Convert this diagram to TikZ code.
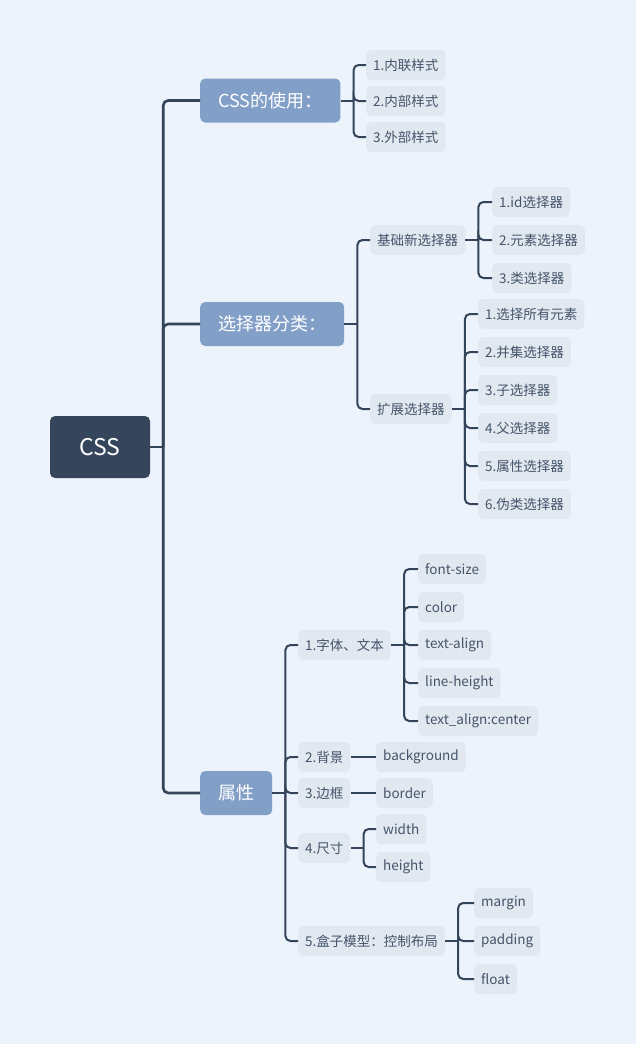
\documentclass[tikz,border=0pt]{standalone}
\usepackage{fontspec}
\setmainfont{Noto Sans CJK SC}
\definecolor{pagebg}{HTML}{EDF3FA}
\definecolor{rootblue}{HTML}{35465C}
\definecolor{topicblue}{HTML}{829FC8}
\definecolor{leafgray}{HTML}{E1E8F0}
\definecolor{leaftext}{HTML}{45546A}
\definecolor{linkblue}{HTML}{34455B}
\tikzset{
  rootbox/.style={fill=rootblue, rounded corners=5pt, text=white, minimum width=100pt, minimum height=62pt, font=\fontsize{23}{26}\selectfont},
  topic/.style={fill=topicblue, rounded corners=5pt, text=white, anchor=west, minimum height=44pt, inner xsep=18pt, font=\fontsize{18}{20}\selectfont},
  leaf/.style={fill=leafgray, rounded corners=5pt, text=leaftext, anchor=west, minimum height=30pt, inner xsep=7pt, font=\fontsize{13.5}{15}\selectfont},
  link/.style={draw=linkblue, line width=2pt, rounded corners=5pt},
}

\begin{document}
\begin{tikzpicture}[x=1pt, y=-1pt]
\fill[pagebg] (0,0) rectangle (636,1044);
\useasboundingbox (0,0) rectangle (636,1044);
% root and main topics
\node[rootbox] (root) at (100,447) {CSS};
\node[topic] (use) at (200,100.5) {CSS的使用：};
\node[topic] (sel) at (200,324) {选择器分类：};
\node[topic] (attr) at (200,793) {属性};
% CSS usage
\node[leaf] (u1) at (366,65) {1.内联样式};
\node[leaf] (u2) at (366,101) {2.内部样式};
\node[leaf] (u3) at (366,137) {3.外部样式};
% selectors
\node[leaf] (base) at (370,240) {基础新选择器};
\node[leaf] (ext) at (370,409) {扩展选择器};
\node[leaf] (b1) at (492,202) {1.id选择器};
\node[leaf] (b2) at (492,240) {2.元素选择器};
\node[leaf] (b3) at (492,278) {3.类选择器};
\node[leaf] (e1) at (478,314) {1.选择所有元素};
\node[leaf] (e2) at (478,352) {2.并集选择器};
\node[leaf] (e3) at (478,390) {3.子选择器};
\node[leaf] (e4) at (478,428) {4.父选择器};
\node[leaf] (e5) at (478,466) {5.属性选择器};
\node[leaf] (e6) at (478,504) {6.伪类选择器};
% properties
\node[leaf] (a1) at (298,645) {1.字体、文本};
\node[leaf] (a2) at (298,757) {2.背景};
\node[leaf] (a3) at (298,793) {3.边框};
\node[leaf] (a4) at (298,848) {4.尺寸};
\node[leaf] (a5) at (298,941) {5.盒子模型：控制布局};
\node[leaf] (f1) at (418,569) {font-size};
\node[leaf] (f2) at (418,607) {color};
\node[leaf] (f3) at (418,645) {text-align};
\node[leaf] (f4) at (418,683) {line-height};
\node[leaf] (f5) at (418,721) {text\_align:center};
\node[leaf] (g1) at (376,757) {background};
\node[leaf] (h1) at (376,793) {border};
\node[leaf] (w1) at (376,829) {width};
\node[leaf] (w2) at (376,867) {height};
\node[leaf] (m1) at (474,903) {margin};
\node[leaf] (m2) at (474,941) {padding};
\node[leaf] (m3) at (474,979) {float};
% connectors
\path (root.east) ++(13,0) coordinate (rootj);
\draw[link, line width=2.6pt] (root.east) -- (rootj);
\foreach \c in {use,sel,attr}
  \draw[link, line width=2.6pt] (rootj) |- (\c.west);
\foreach \p/\kids in {use/{u1,u2,u3}, sel/{base,ext}, base/{b1,b2,b3},
    ext/{e1,e2,e3,e4,e5,e6}, attr/{a1,a2,a3,a4,a5}, a1/{f1,f2,f3,f4,f5},
    a4/{w1,w2}, a5/{m1,m2,m3}} {
  \path (\p.east) ++(13,0) coordinate (\p j);
  \draw[link] (\p.east) -- (\p j);
  \foreach \k in \kids
    \draw[link] (\p j) |- (\k.west);
}
\draw[link] (a2.east) -- (g1.west);
\draw[link] (a3.east) -- (h1.west);
\end{tikzpicture}
\end{document}
